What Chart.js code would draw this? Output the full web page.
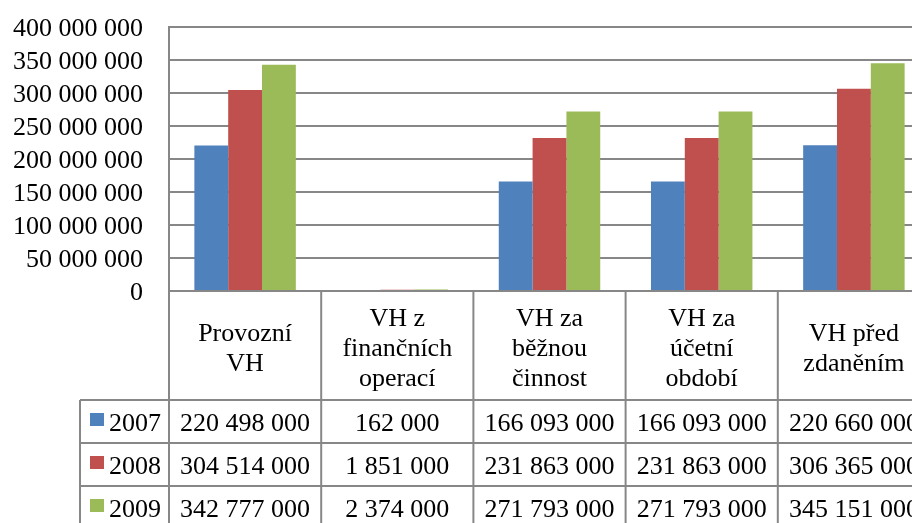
<!DOCTYPE html>
<html>
<head>
<meta charset="utf-8">
<script src="https://cdn.jsdelivr.net/npm/chart.js@4/dist/chart.umd.min.js"></script>
<style>
  html, body { margin: 0; padding: 0; overflow: hidden; background: #fff; }
  #wrap { width: 930px; height: 523px; }
</style>
</head>
<body>
<div id="wrap"><canvas id="c" width="930" height="523"></canvas></div>
<script>
// Categories (multi-line header labels of the data table)
const categories = [
  ["Provozní", "VH"],
  ["VH z", "finančních", "operací"],
  ["VH za", "běžnou", "činnost"],
  ["VH za", "účetní", "období"],
  ["VH před", "zdaněním"]
];

const years = ["2007", "2008", "2009"];

const values2007 = [220498000, 162000, 166093000, 166093000, 220660000];
const values2008 = [304514000, 1851000, 231863000, 231863000, 306365000];
const values2009 = [342777000, 2374000, 271793000, 271793000, 345151000];

const yMin = 0;
const yMax = 400000000;
const yStep = 50000000;

const seriesColors = ["#4F81BD", "#C0504D", "#9BBB59"];
const seriesValues = [values2007, values2008, values2009];

const FONT_FAMILY = '"Liberation Serif", "Times New Roman", serif';
const FONT = '26px ' + FONT_FAMILY;
const LINE_COLOR = '#878787';

// thousands grouped with spaces: 220 498 000
function spaced(v) {
  return String(Math.round(v)).replace(/\B(?=(\d{3})+(?!\d))/g, ' ');
}

// Data table under the plot: header row with category names,
// one row per year with a colour key and the values.
const dataTable = {
  id: 'dataTable',
  afterDraw(chart) {
    const { ctx, chartArea, scales } = chart;
    const x = scales.x;
    const H = chart.height;
    const top = chartArea.bottom;
    const headH = 109;
    const rowH = 43;
    const keyLeft = 80;
    const headBottom = top + headH;
    const half = (x.getPixelForValue(1) - x.getPixelForValue(0)) / 2;
    const edges = categories.map((_, i) => x.getPixelForValue(i) - half);
    edges.push(x.getPixelForValue(categories.length - 1) + half);
    const right = chart.width;

    ctx.save();
    ctx.strokeStyle = LINE_COLOR;
    ctx.lineWidth = 2;
    const line = (x1, y1, x2, y2) => {
      ctx.beginPath(); ctx.moveTo(x1, y1); ctx.lineTo(x2, y2); ctx.stroke();
    };
    line(chartArea.left - 1, top, right, top);
    for (let r = 0; r < years.length; r++) {
      line(keyLeft, headBottom + r * rowH, right, headBottom + r * rowH);
    }
    edges.forEach(e => line(e, top, e, H));
    line(keyLeft, headBottom, keyLeft, H);

    ctx.fillStyle = '#000';
    ctx.font = FONT;
    ctx.textBaseline = 'alphabetic';

    // header labels
    ctx.textAlign = 'center';
    categories.forEach((lines, i) => {
      const cx = x.getPixelForValue(i);
      const mid = top + 64.5;
      lines.forEach((t, k) => {
        ctx.fillText(t, cx, mid + (k - (lines.length - 1) / 2) * 30);
      });
    });

    // year rows
    years.forEach((yr, r) => {
      const rowTop = headBottom + r * rowH;
      ctx.fillStyle = seriesColors[r];
      ctx.fillRect(keyLeft + 10, rowTop + 13, 14, 13);
      ctx.fillStyle = '#000';
      ctx.textAlign = 'left';
      ctx.fillText(yr, keyLeft + 29, rowTop + 31);
      ctx.textAlign = 'center';
      seriesValues[r].forEach((v, i) => {
        ctx.fillText(spaced(v), x.getPixelForValue(i), rowTop + 31);
      });
    });
    ctx.restore();
  }
};

new Chart(document.getElementById('c'), {
  type: 'bar',
  data: {
    labels: categories,
    datasets: years.map((yr, i) => ({
      label: yr,
      data: seriesValues[i],
      backgroundColor: seriesColors[i],
      borderWidth: 0,
      categoryPercentage: 3 / 4.5,
      barPercentage: 1.0
    }))
  },
  options: {
    responsive: false,
    animation: false,
    devicePixelRatio: 1,
    layout: { padding: { top: 27, bottom: 232, left: 0, right: 0 } },
    plugins: { legend: { display: false }, tooltip: { enabled: false } },
    scales: {
      x: { display: false },
      y: {
        min: yMin,
        max: yMax,
        afterFit(scale) {
          scale.width = 169;
          scale.paddingTop = 0;
          scale.paddingBottom = 0;
        },
        border: { display: true, color: LINE_COLOR, width: 2 },
        grid: { color: LINE_COLOR, lineWidth: 2, drawTicks: false },
        ticks: {
          stepSize: yStep,
          autoSkip: false,
          padding: 26,
          labelOffset: 2,
          color: '#000',
          font: { family: FONT_FAMILY, size: 26 },
          callback: v => spaced(v)
        }
      }
    }
  },
  plugins: [dataTable]
});
</script>
</body>
</html>
